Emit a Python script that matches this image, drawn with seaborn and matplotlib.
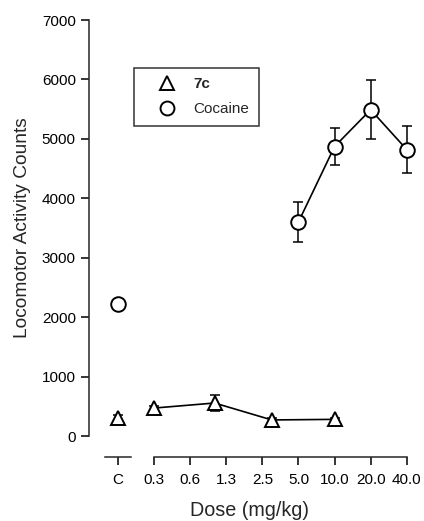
import numpy as np
import pandas as pd
import matplotlib
matplotlib.use("Agg")
import matplotlib.pyplot as plt
import seaborn as sns
from matplotlib.lines import Line2D

# doses in mg/kg; control (C) drawn apart from the dose axis
tick_labels = ["0.3", "0.6", "1.3", "2.5", "5.0", "10.0", "20.0", "40.0"]
tick_doses = [0.3125, 0.625, 1.25, 2.5, 5.0, 10.0, 20.0, 40.0]

dose_7c = [0.3125, 1.0, 3.0, 10.0]
mean_7c = [470, 555, 270, 280]
sem_7c = [40, 135, 30, 20]
ctrl_7c_mean, ctrl_7c_sem = 300, 60

dose_coc = [5.0, 10.0, 20.0, 40.0]
mean_coc = [3600, 4870, 5490, 4820]
sem_coc = [330, 310, 500, 400]
ctrl_coc_mean, ctrl_coc_sem = 2220, 60

sns.set_style("ticks")
plt.rcParams["font.family"] = ["Liberation Sans", "DejaVu Sans"]


def pos(d):
    # equal spacing per doubling of dose
    return np.log2(np.asarray(d, dtype=float) / tick_doses[0])


CTRL = -1.0
XLIM = (-1.8, 7.09)

df = pd.concat([
    pd.DataFrame({"drug": "7c", "x": pos(dose_7c), "y": mean_7c, "err": sem_7c}),
    pd.DataFrame({"drug": "Cocaine", "x": pos(dose_coc), "y": mean_coc, "err": sem_coc}),
])
ctrl = pd.DataFrame({"drug": ["7c", "Cocaine"], "x": [CTRL, CTRL],
                     "y": [ctrl_7c_mean, ctrl_coc_mean],
                     "err": [ctrl_7c_sem, ctrl_coc_sem]})
markers = {"7c": "^", "Cocaine": "o"}

fig = plt.figure(figsize=(4.24, 5.21), dpi=100)
rect = [89 / 424, 85 / 521, 321 / 424, 416 / 521]
ax2 = fig.add_axes(rect)   # short axis segment under the control point
ax = fig.add_axes(rect)
ax.patch.set_visible(False)

mk = dict(markersize=10.5, markerfacecolor="white", markeredgecolor="black",
          markeredgewidth=1.4, color="black", clip_on=False)
eb = dict(fmt="none", ecolor="black", elinewidth=1.1, capsize=3.5,
          capthick=1.1, zorder=2, clip_on=False)

for drug, sub in df.groupby("drug"):
    ax.errorbar(sub["x"], sub["y"], yerr=sub["err"], **eb)
    sns.lineplot(data=sub, x="x", y="y", ax=ax, marker=markers[drug],
                 linewidth=1.2, zorder=3, **mk)

for _, r in ctrl.iterrows():
    ax.errorbar([r["x"]], [r["y"]], yerr=[r["err"]], **eb)
    ax.plot([r["x"]], [r["y"]], marker=markers[r["drug"]], linestyle="none",
            zorder=3, **mk)

for a in (ax, ax2):
    a.set_xlim(*XLIM)
    a.set_ylim(0, 7000)
    a.spines["top"].set_visible(False)
    a.spines["right"].set_visible(False)
    a.spines["bottom"].set_position(("outward", 15))
    a.spines["bottom"].set_linewidth(1.1)
    a.spines["left"].set_linewidth(1.1)
    a.tick_params(axis="both", direction="out", length=5.5, width=1.1,
                  labelsize=11, pad=4, colors="black")
    a.tick_params(axis="x", pad=6)

ax.set_yticks(range(0, 7001, 1000))
ax.set_xticks(pos(tick_doses))
ax.set_xticklabels(tick_labels)
ax.spines["bottom"].set_bounds(pos(tick_doses)[0], pos(tick_doses)[-1])

ax2.spines["left"].set_visible(False)
ax2.spines["bottom"].set_bounds(CTRL - 0.35, CTRL + 0.35)
ax2.tick_params(axis="y", left=False, labelleft=False)
ax2.set_xticks([CTRL])
ax2.set_xticklabels(["C"])

ax.set_xlabel("Dose (mg/kg)", fontsize=14.2, labelpad=10)
ax.set_ylabel("Locomotor Activity Counts", fontsize=13.8, labelpad=8)

handles = [Line2D([], [], marker=markers[d], linestyle="none", markersize=10,
                  markerfacecolor="white", markeredgecolor="black",
                  markeredgewidth=1.4) for d in ["7c", "Cocaine"]]
leg = ax.legend(handles, ["7c", "Cocaine"], loc="upper left",
                bbox_to_anchor=(0.14, 0.885), frameon=True, fancybox=False,
                edgecolor="black", fontsize=11, borderpad=0.6,
                handlelength=3.1, handletextpad=0.2, labelspacing=0.75,
                borderaxespad=0)
leg.get_frame().set_linewidth(1.1)
leg.get_texts()[0].set_fontweight("bold")

fig.savefig("out.png", dpi=100)
